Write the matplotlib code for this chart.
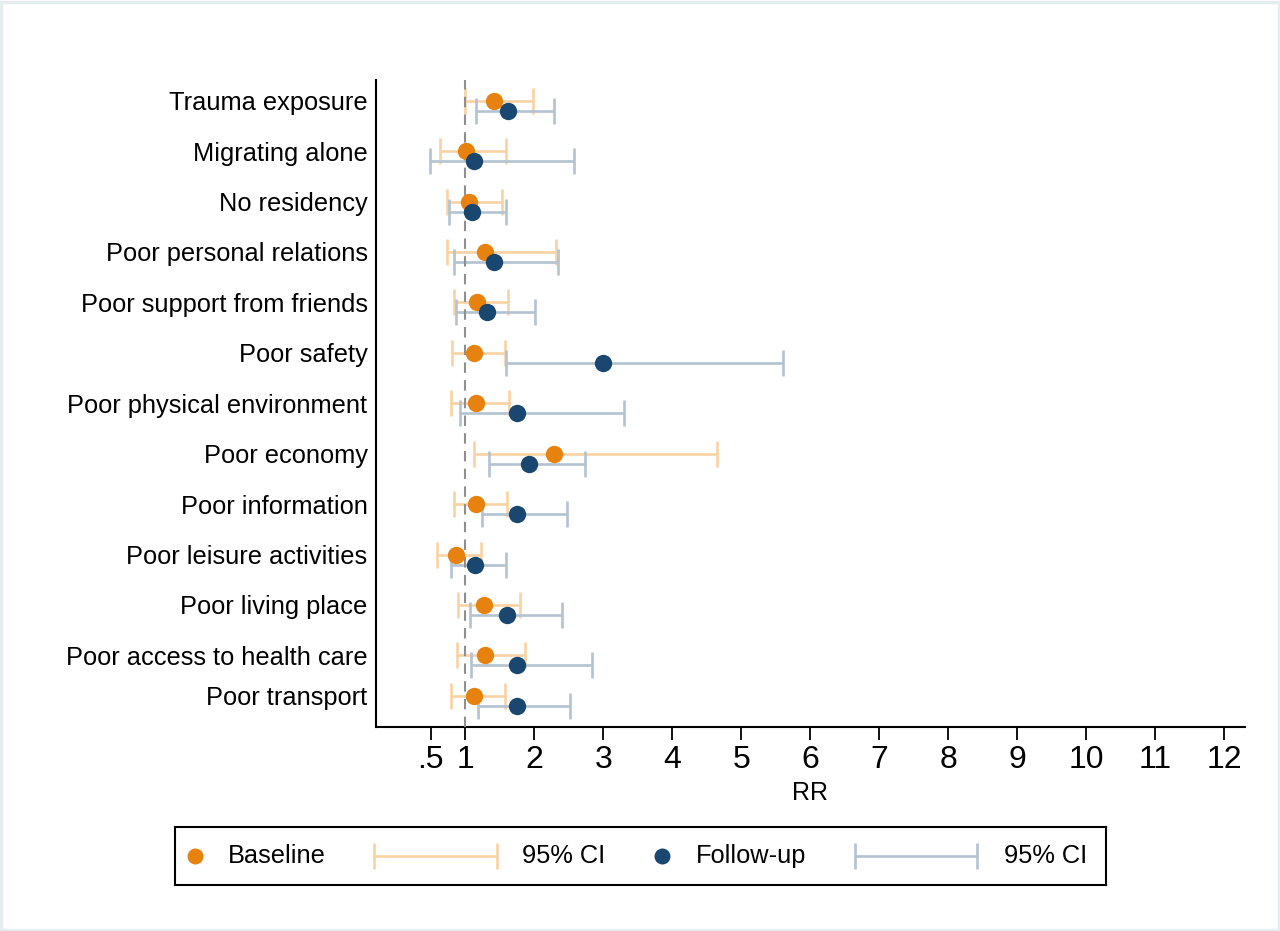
import numpy as np
import matplotlib
matplotlib.use('Agg')
import matplotlib.pyplot as plt
from matplotlib.patches import Rectangle


# Chart data
labels = ['Trauma exposure', 'Migrating alone', 'No residency', 'Poor personal relations',
          'Poor support from friends', 'Poor safety', 'Poor physical environment',
          'Poor economy', 'Poor information', 'Poor leisure activities',
          'Poor living place', 'Poor access to health care', 'Poor transport']
row_pos = [0, 1, 2, 3, 4, 5, 6, 7, 8, 9, 10, 11, 11.8]

base_rr = [1.42, 1.01, 1.05, 1.29, 1.17, 1.13, 1.15, 2.28, 1.16, 0.86, 1.27, 1.28, 1.13]
base_lo = [1.00, 0.63, 0.74, 0.73, 0.84, 0.81, 0.80, 1.13, 0.83, 0.59, 0.90, 0.88, 0.80]
base_hi = [1.98, 1.59, 1.53, 2.31, 1.62, 1.58, 1.64, 4.65, 1.60, 1.23, 1.80, 1.86, 1.58]

fu_rr = [1.62, 1.12, 1.10, 1.41, 1.32, 2.99, 1.75, 1.93, 1.75, 1.14, 1.60, 1.75, 1.75]
fu_lo = [1.16, 0.49, 0.76, 0.84, 0.87, 1.59, 0.93, 1.35, 1.24, 0.80, 1.07, 1.08, 1.19]
fu_hi = [2.29, 2.58, 1.59, 2.35, 2.01, 5.61, 3.30, 2.73, 2.47, 1.59, 2.40, 2.83, 2.52]

tick_vals = [0.5, 1, 2, 3, 4, 5, 6, 7, 8, 9, 10, 11, 12]
tick_text = ['.5', '1', '2', '3', '4', '5', '6', '7', '8', '9', '10', '11', '12']

# Colours
orange = '#e8820e'
navy = '#1a476f'
orange_ci = '#f8d2a2'
navy_ci = '#b3c3d1'

plt.rcParams['font.family'] = ['Liberation Sans', 'DejaVu Sans']

fig = plt.figure(figsize=(12.8, 9.31), dpi=100)
fig.patch.set_facecolor('white')

# Light outer frame
fig.patches.append(Rectangle((0.001, 0.001), 0.998, 0.997, transform=fig.transFigure,
                             fill=False, edgecolor='#e4ecee', lw=2.5))

ax = fig.add_axes([0.2937, 0.2191, 0.679, 0.695])

y_base = np.array(row_pos)
y_fu = y_base + 0.2

base_rr = np.array(base_rr)
fu_rr = np.array(fu_rr)
base_err = [base_rr - np.array(base_lo), np.array(base_hi) - base_rr]
fu_err = [fu_rr - np.array(fu_lo), np.array(fu_hi) - fu_rr]

# Confidence intervals
ci_style = dict(fmt='none', elinewidth=1.9, capsize=9.5, capthick=1.9, zorder=2)
ax.errorbar(base_rr, y_base, xerr=base_err, ecolor=orange_ci, **ci_style)
ax.errorbar(fu_rr, y_fu, xerr=fu_err, ecolor=navy_ci, **ci_style)

# Reference line at RR = 1
ax.axvline(1, color='#8f8f8f', lw=1.5, dashes=(5, 3.5), zorder=3)

# Point estimates
ax.plot(base_rr, y_base, 'o', color=orange, markersize=12.5, markeredgewidth=0, zorder=4)
ax.plot(fu_rr, y_fu, 'o', color=navy, markersize=12.5, markeredgewidth=0, zorder=5)

ax.set_xlim(-0.294, 12.3)
ax.set_ylim(12.42, -0.41)

ax.set_yticks(row_pos)
ax.set_yticklabels(labels, fontsize=18.3)
ax.set_xticks(tick_vals)
ax.set_xticklabels(tick_text, fontsize=23)
ax.tick_params(axis='y', length=0, pad=6)
ax.tick_params(axis='x', length=9, width=1.3, pad=4)
ax.set_xlabel('RR', fontsize=18, labelpad=4)

for side in ['top', 'right']:
    ax.spines[side].set_visible(False)
for side in ['left', 'bottom']:
    ax.spines[side].set_linewidth(1.5)

# Legend drawn by hand in pixel coordinates
lx0, lx1, ly0, ly1 = 175, 1106, 827, 885
lax = fig.add_axes([lx0 / 1280, 1 - ly1 / 931, (lx1 - lx0) / 1280, (ly1 - ly0) / 931])
lax.set_xlim(lx0, lx1)
lax.set_ylim(ly1, ly0)
lax.set_xticks([])
lax.set_yticks([])
for s in lax.spines.values():
    s.set_linewidth(1.5)

ym = 856
leg_ci = dict(fmt='none', elinewidth=1.9, capsize=9.5, capthick=1.9)
lax.plot([195], [ym], 'o', color=orange, markersize=11.5, markeredgewidth=0)
lax.text(228, ym, 'Baseline', fontsize=18.3, va='center', ha='left')
lax.errorbar([435.5], [ym], xerr=[[61.5], [61.5]], ecolor=orange_ci, **leg_ci)
lax.text(522, ym, '95% CI', fontsize=18.3, va='center', ha='left')
lax.plot([662], [ym], 'o', color=navy, markersize=11.5, markeredgewidth=0)
lax.text(696, ym, 'Follow-up', fontsize=18.3, va='center', ha='left')
lax.errorbar([916], [ym], xerr=[[61], [61]], ecolor=navy_ci, **leg_ci)
lax.text(1004, ym, '95% CI', fontsize=18.3, va='center', ha='left')

fig.savefig('out.png', dpi=100)
